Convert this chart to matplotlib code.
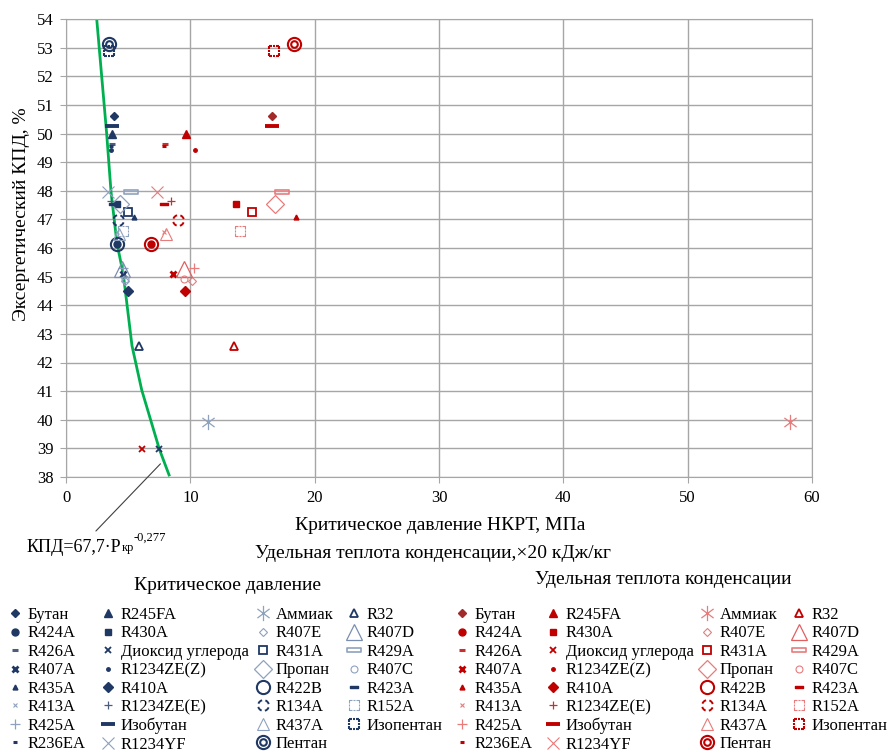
import matplotlib
matplotlib.use('Agg')
import matplotlib.pyplot as plt
from matplotlib.path import Path

plt.rcParams['font.family'] = ['Liberation Serif', 'DejaVu Serif']

W, H = 888, 753

# refrigerants, in legend order (column-major, 8 rows)
names = ['Бутан', 'R424A', 'R426A', 'R407A', 'R435A', 'R413A', 'R425A', 'R236EA',
         'R245FA', 'R430A', 'Диоксид углерода', 'R1234ZE(Z)', 'R410A', 'R1234ZE(E)', 'Изобутан', 'R1234YF',
         'Аммиак', 'R407E', 'R431A', 'Пропан', 'R422B', 'R134A', 'R437A', 'Пентан',
         'R32', 'R407D', 'R429A', 'R407C', 'R423A', 'R152A', 'Изопентан']

# exergy efficiency, %
eff = [50.62, 46.14, 49.62, 45.08, 47.08, 46.55, 45.31, 49.55,
       49.99, 47.52, 38.97, 49.43, 44.5, 47.64, 50.27, 47.97,
       39.91, 44.84, 47.26, 47.54, 46.15, 46.98, 46.5, 53.12,
       42.59, 45.28, 47.95, 44.92, 47.52, 46.58, 52.88]

# critical pressure, MPa
p_crit = [3.89, 4.08, 3.67, 4.61, 5.47, 4.1, 4.6, 3.6,
          3.73, 4.13, 7.45, 3.65, 4.99, 3.63, 3.67, 3.41,
          11.4, 4.77, 4.96, 4.34, 4.08, 4.21, 4.24, 3.45,
          5.87, 4.5, 5.23, 4.77, 3.8, 4.61, 3.48]

# heat of condensation, x20 kJ/kg
q_cond = [16.55, 6.84, 7.96, 8.63, 18.47, 7.9, 10.3, 7.9,
          9.63, 13.65, 6.09, 10.38, 9.6, 8.45, 16.55, 7.3,
          58.27, 10.1, 14.94, 16.8, 6.84, 9.0, 8.05, 18.37,
          13.5, 9.47, 17.35, 9.47, 7.88, 14.0, 16.73]

# trend line
curve_p = [2.47, 3.27, 3.62, 4.1, 4.61, 5.31, 6.09, 7.51, 8.29]
curve_eff = [54.0, 50.0, 47.97, 46.16, 45.08, 42.58, 41.04, 38.97, 38.07]

# custom marker shapes
circ = Path.unit_circle()
double_circle = Path.make_compound_path(circ, Path(circ.vertices * 0.5, circ.codes))
dash_circle = Path.make_compound_path(*[Path.arc(a, a + 55) for a in (15, 105, 195, 285)])
wide_rect = Path([(-1, -0.3), (1, -0.3), (1, 0.3), (-1, 0.3), (-1, -0.3)], [1, 2, 2, 2, 79])
star = Path([(0, -1), (0, 1), (-0.8, -0.6), (0.8, 0.6), (-0.8, 0.6), (0.8, -0.6)], [1, 2, 1, 2, 1, 2])


def dashed_square():
    verts, codes = [], []
    for a, b in [(-1, -0.45), (-0.2, 0.2), (0.45, 1)]:
        for seg in [((a, -1), (b, -1)), ((a, 1), (b, 1)), ((-1, a), (-1, b)), ((1, a), (1, b))]:
            verts += list(seg)
            codes += [Path.MOVETO, Path.LINETO]
    return Path(verts, codes)


dsq = dashed_square()

# marker, size, filled, edge width, tone
styles = [('D', 3.6, True, 1, 'br'), ('o', 5, True, 1, 'dk'), ('_', 4.5, True, 2.2, 'md'), ('x', 5, True, 2, 'dk'),
          ('^', 3.5, True, 1, 'dk'), ('x', 3.5, True, 0.8, 'lt'), ('+', 7, True, 0.9, 'lt'), ('_', 3, True, 2.2, 'dk'),
          ('^', 5.5, True, 1, 'dk'), ('s', 5, True, 1, 'dk'), ('x', 4.5, True, 1.3, 'dk'), ('o', 2.5, True, 1, 'dk'),
          ('D', 5, True, 1, 'dk'), ('+', 5.5, True, 0.9, 'md'), ('_', 10, True, 2.8, 'dk'), ('x', 9, True, 0.8, 'lt'),
          (star, 11, False, 0.9, 'lt'), ('D', 3.6, False, 0.8, 'lt'), ('s', 5.5, False, 1.3, 'dk'), ('D', 9, False, 0.9, 'lt'),
          ('o', 9.5, False, 1.5, 'dk'), (dash_circle, 7.5, False, 1.4, 'dk'), ('^', 9, False, 0.8, 'lt'), (double_circle, 9.5, False, 1.5, 'dk'),
          ('^', 5.5, False, 1.3, 'dk'), ('^', 11, False, 0.9, 'md2'), (wide_rect, 10, False, 1.2, 'lt'), ('o', 5, False, 0.8, 'lt'),
          (wide_rect, 5.5, True, 1, 'dk'), (dsq, 6.5, False, 0.8, 'lt'), (dsq, 7.5, False, 1.5, 'dk')]

blue = {'dk': '#1F3864', 'md': '#4A5D7E', 'lt': '#8EA2BE', 'md2': '#7A8FB0'}
red = {'dk': '#C00000', 'md': '#C83030', 'lt': '#E87B7B', 'br': '#A12B2B', 'md2': '#E06060'}

fig = plt.figure(figsize=(W / 100, H / 100), dpi=100)
ax = fig.add_axes([66 / W, 1 - 477 / H, (812 - 66) / W, (477 - 19) / H])


def draw(xs, pal):
    hs = []
    for i, name in enumerate(names):
        m, ms, filled, mew, tone = styles[i]
        c = pal.get(tone, pal['dk'])
        h, = ax.plot(xs[i], eff[i], linestyle='none', marker=m, ms=ms, mew=mew,
                     mec=c, mfc=c if filled else 'none', label=name, zorder=3)
        hs.append(h)
    return hs


ax.plot(curve_p, curve_eff, color='#00B050', lw=2, zorder=2.5)
h_blue = draw(p_crit, blue)
h_red = draw(q_cond, red)

ax.set_xlim(0, 60)
ax.set_ylim(38, 54)
ax.set_xticks(range(0, 61, 10))
ax.set_yticks(range(38, 55))
ax.grid(True, color='#A6A6A6', lw=1)
ax.set_axisbelow(True)
for s in ax.spines.values():
    s.set_color('#A6A6A6')
ax.tick_params(direction='out', length=4, color='#A6A6A6', labelsize=12, pad=5)

fig.text(22 / W, 1 - 214 / H, 'Эксергетический КПД, %', rotation=90, ha='center', va='center', fontsize=14)
fig.text(440 / W, 1 - 525 / H, 'Критическое давление НКРТ, МПа', ha='center', va='center', fontsize=14)
fig.text(433 / W, 1 - 554 / H, 'Удельная теплота конденсации,×20 кДж/кг', ha='center', va='center', fontsize=14)
fig.text(227 / W, 1 - 585 / H, 'Критическое давление', ha='center', va='center', fontsize=14)
fig.text(663 / W, 1 - 580 / H, 'Удельная теплота конденсации', ha='center', va='center', fontsize=14)

# trend formula with leader line
t1 = fig.text(27 / W, 1 - 552 / H, 'КПД=67,7·P', fontsize=13, va='baseline')
t2 = ax.annotate('кр', xy=(1, 0.12), xycoords=t1, ha='left', va='bottom', fontsize=9, annotation_clip=False)
ax.annotate('-0,277', xy=(1, 0.7), xycoords=(t2, t1), ha='left', va='bottom', fontsize=9, annotation_clip=False)
ax.annotate('', xy=(7.75, 38.53), xycoords='data', xytext=(94 / W, 1 - 533 / H), textcoords='figure fraction',
            arrowprops=dict(arrowstyle='-', color='#404040', lw=0.8), annotation_clip=False)


def add_legend(handles, col_x, top_px):
    fs = 12
    hl = 0.8
    half = hl * fs * 100 / 72 / 2
    for c in range(4):
        hs = handles[c * 8:(c + 1) * 8]
        fig.legend(hs, [h.get_label() for h in hs], loc='upper left',
                   bbox_to_anchor=((col_x[c] - half) / W, 1 - top_px / H),
                   frameon=False, fontsize=fs, handlelength=hl, handletextpad=0.35,
                   labelspacing=0.148, borderpad=0, borderaxespad=0)


add_legend(h_blue, [15, 108, 263, 354], 607)
add_legend(h_red, [462, 553, 707, 799], 607)

fig.savefig('out.png', dpi=100)
